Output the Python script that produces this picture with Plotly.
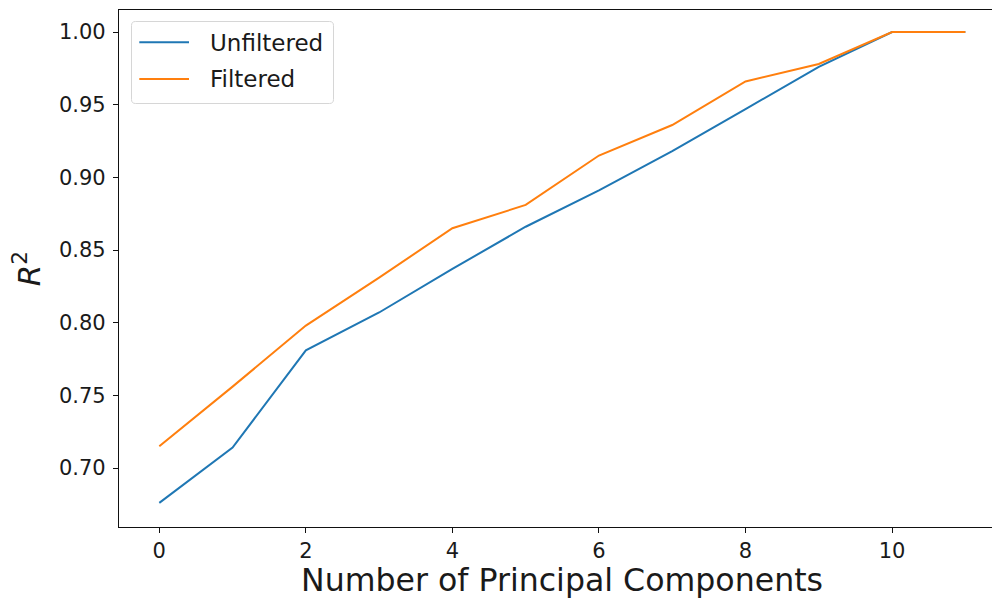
import plotly.graph_objects as go

# Number of principal components used in the regression
components = [0, 1, 2, 3, 4, 5, 6, 7, 8, 9, 10, 11]

# Coefficient of determination for each model
r2_unfiltered = [0.676, 0.714, 0.781, 0.807, 0.837, 0.866, 0.891, 0.918, 0.947, 0.976, 1.000, 1.000]
r2_filtered = [0.715, 0.756, 0.798, 0.831, 0.865, 0.881, 0.915, 0.936, 0.966, 0.978, 1.000, 1.000]

series_names = ["Unfiltered", "Filtered"]
series_colors = ["#1f77b4", "#ff7f0e"]

FONT = "DejaVu Sans"
TEXT = "#1a1a1a"

W, H = 992, 598
M_L, M_R, M_T, M_B = 119, 0, 10, 71
PLOT_W = W - M_L - M_R
PLOT_H = H - M_T - M_B


def paper_x(px):
    return (px - M_L) / PLOT_W


def paper_y(py):
    return (H - M_B - py) / PLOT_H


fig = go.Figure()
for name, vals, color in zip(series_names, [r2_unfiltered, r2_filtered], series_colors):
    fig.add_trace(go.Scatter(
        x=components, y=vals, mode="lines", name=name,
        line=dict(color=color, width=2),
    ))

axis_common = dict(
    showgrid=False, zeroline=False,
    showline=True, linecolor="#111", linewidth=1.2,
    ticks="outside", ticklen=5, tickwidth=1.1, tickcolor="#111",
    tickfont=dict(family=FONT, size=21, color=TEXT),
)

# Legend box with rounded corners (drawn in paper coordinates)
bx0, bx1, by0, by1, r = 131.5, 333.5, 21.5, 103.5, 4
ppx = lambda v: f"{paper_x(v):.5f}"
ppy = lambda v: f"{paper_y(v):.5f}"
box_path = (
    f"M{ppx(bx0 + r)},{ppy(by0)} L{ppx(bx1 - r)},{ppy(by0)} "
    f"Q{ppx(bx1)},{ppy(by0)} {ppx(bx1)},{ppy(by0 + r)} "
    f"L{ppx(bx1)},{ppy(by1 - r)} Q{ppx(bx1)},{ppy(by1)} {ppx(bx1 - r)},{ppy(by1)} "
    f"L{ppx(bx0 + r)},{ppy(by1)} Q{ppx(bx0)},{ppy(by1)} {ppx(bx0)},{ppy(by1 - r)} "
    f"L{ppx(bx0)},{ppy(by0 + r)} Q{ppx(bx0)},{ppy(by0)} {ppx(bx0 + r)},{ppy(by0)} Z"
)
shapes = [dict(type="path", path=box_path, xref="paper", yref="paper",
               fillcolor="rgba(255,255,255,0.8)", line=dict(color="#d6d6d6", width=1))]
annotations = []
entry_rows = [42.3, 79.0]
for name, color, row in zip(series_names, series_colors, entry_rows):
    shapes.append(dict(type="line", xref="paper", yref="paper",
                       x0=paper_x(139.3), x1=paper_x(189.0), y0=paper_y(row), y1=paper_y(row),
                       line=dict(color=color, width=2)))
    annotations.append(dict(text=name, xref="paper", yref="paper",
                            x=paper_x(207.5), y=paper_y(row + 0.5), xanchor="left", yanchor="middle",
                            showarrow=False, font=dict(family=FONT, size=23, color=TEXT)))

annotations.append(dict(
    text="Number of Principal Components", xref="paper", yref="paper",
    x=paper_x(562.0), y=-0.0642, xanchor="center", yanchor="top", showarrow=False,
    font=dict(family=FONT, size=31.6, color=TEXT),
))

fig.update_layout(
    width=W, height=H,
    margin=dict(l=M_L, r=M_R, t=M_T, b=M_B),
    paper_bgcolor="white", plot_bgcolor="white",
    font=dict(family=FONT, color=TEXT),
    showlegend=False,
    xaxis=dict(range=[-0.55, 11.364], tickmode="linear", tick0=0, dtick=2,
               mirror=True, **axis_common),
    yaxis=dict(range=[0.6594, 1.01514], tickmode="linear", tick0=0.70, dtick=0.05,
               tickformat=".2f", mirror=False, ticklabelstandoff=3,
               title=dict(text="<i>R</i><sup>2</sup>", font=dict(family=FONT, size=31, color=TEXT),
                          standoff=9),
               **axis_common),
    shapes=shapes,
    annotations=annotations,
)

fig.write_html("out.html")
